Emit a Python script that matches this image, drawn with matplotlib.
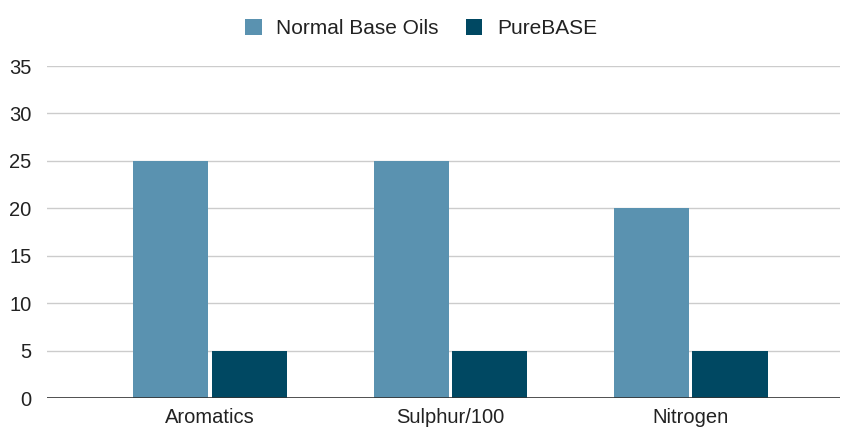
import matplotlib
matplotlib.use('Agg')
import matplotlib.pyplot as plt
import numpy as np

categorias = ['Aromatics', 'Sulphur/100', 'Nitrogen']
normal = [25, 25, 20]
purebase = [5, 5, 5]
series = ['Normal Base Oils', 'PureBASE']
cores = ['#5A92B0', '#004862']

plt.rcParams['font.family'] = ['Liberation Sans', 'DejaVu Sans']

fig = plt.figure(figsize=(8.42, 4.32), dpi=100)
ax = fig.add_axes([47/842, 34/432, 793/842, 332/432])

x = np.arange(len(categorias))
larg = 0.313
ax.bar(x - 0.163, normal, larg, color=cores[0], label=series[0], zorder=3)
ax.bar(x + 0.163, purebase, larg, color=cores[1], label=series[1], zorder=3)

ax.set_xlim(-0.678, 2.62)
ax.set_ylim(0, 35)
ax.set_yticks(range(0, 36, 5))
ax.set_xticks(x)
ax.set_xticklabels(categorias)
ax.tick_params(axis='both', length=0, labelsize=14.5, colors='#222222')
ax.tick_params(axis='y', pad=11)
ax.tick_params(axis='x', pad=7)

ax.grid(axis='y', color='#cccccc', linewidth=1, zorder=0)
ax.axhline(0, color='#333333', linewidth=1.2, zorder=4)
for s in ax.spines.values():
    s.set_visible(False)

fig.legend(loc='upper center', bbox_to_anchor=(0.5, 1.0), ncol=2, frameon=False,
           fontsize=15, handlelength=0.8, handleheight=0.8, handletextpad=0.7,
           columnspacing=1.3, labelcolor='#222222')

fig.savefig('out.png', dpi=100)
